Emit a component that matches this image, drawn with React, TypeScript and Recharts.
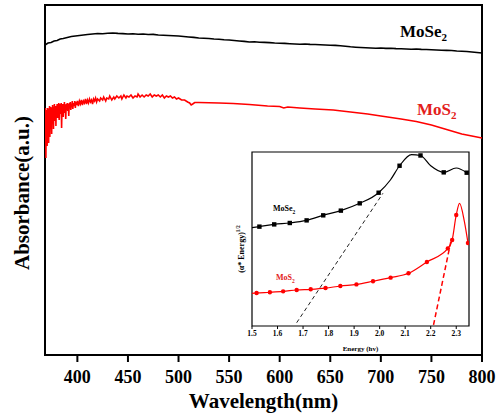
import React from 'react';
import { LineChart, Line, XAxis, YAxis, ReferenceArea } from 'recharts';

// main spectra: wavelength (nm) and absorbance (a.u.)
const mose2Wl = [368, 371, 374, 377, 380, 383, 386, 390, 394, 398, 402, 406, 410, 415, 420, 425, 430, 435, 440, 445, 450, 455, 460, 465, 470, 475, 480, 485, 490, 495, 500, 505, 510, 515, 520, 525, 530, 535, 540, 545, 550, 555, 560, 565, 570, 575, 580, 585, 590, 595, 600, 605, 610, 615, 620, 625, 630, 635, 640, 645, 650, 655, 660, 665, 670, 675, 680, 685, 690, 695, 700, 705, 710, 715, 720, 725, 730, 735, 740, 745, 750, 755, 760, 765, 770, 775, 780, 785, 790, 795, 800];
const mose2Abs = [3.10, 3.12, 3.125, 3.14, 3.145, 3.16, 3.165, 3.175, 3.185, 3.19, 3.195, 3.20, 3.205, 3.21, 3.215, 3.212, 3.218, 3.22, 3.216, 3.214, 3.21, 3.212, 3.208, 3.21, 3.205, 3.206, 3.20, 3.198, 3.195, 3.192, 3.19, 3.185, 3.18, 3.176, 3.17, 3.168, 3.165, 3.16, 3.158, 3.152, 3.15, 3.145, 3.14, 3.136, 3.13, 3.132, 3.128, 3.126, 3.124, 3.12, 3.118, 3.116, 3.113, 3.11, 3.108, 3.11, 3.106, 3.105, 3.102, 3.10, 3.098, 3.096, 3.092, 3.088, 3.082, 3.078, 3.075, 3.072, 3.07, 3.068, 3.07, 3.066, 3.068, 3.064, 3.062, 3.06, 3.058, 3.06, 3.056, 3.055, 3.052, 3.05, 3.048, 3.046, 3.045, 3.04, 3.038, 3.035, 3.03, 3.025, 3.02];

const mos2Wl = [
  368.0, 368.3, 368.6, 368.9, 369.2, 369.5, 369.8, 370.1, 370.4, 370.7,
  371.0, 371.3, 371.6, 371.9, 372.2, 372.5, 372.8, 373.1, 373.4, 373.7,
  374.0, 374.3, 374.6, 374.9, 375.2, 375.5, 375.8, 376.1, 376.4, 376.7,
  377.0, 377.3, 377.6, 377.9, 378.2, 378.5, 378.8, 379.1, 379.5, 380.0,
  380.4, 380.8, 381.2, 381.6, 382.0, 382.4, 382.8, 383.2, 383.6, 384.0,
  384.4, 384.8, 385.2, 385.6, 386.0, 386.4, 386.8, 387.2, 387.6, 388.0,
  388.5, 389.0, 389.5, 390.0, 390.5, 391.0, 391.5, 392.0, 392.5, 393.0,
  393.5, 394.0, 394.5, 395.0, 395.5, 396.0, 397.0, 397.5, 398.0, 398.5,
  399, 400, 401, 402, 403, 404, 405, 406, 407, 408,
  409, 410, 411, 412, 413, 414, 415, 416, 417, 418,
  419, 420, 422, 423, 425, 426, 428, 429, 431, 432,
  434, 436, 437, 439, 441, 443, 444, 446, 448, 449,
  451, 453, 455, 457, 459, 460, 462, 464, 466, 468,
  470, 472, 474, 476, 478, 480, 482, 484, 486, 488,
  490, 492, 494, 496, 498, 500, 503, 506, 509, 511,
  512.5, 514, 516, 520, 540, 554, 570, 588, 600, 604,
  608, 620, 635, 653, 670, 687, 700, 720, 735, 750,
  765, 780, 790, 800,
];
const mos2Abs = [
  2.43, 2.05, 2.47, 1.97, 2.37, 2.15, 2.45, 2.09, 2.30, 2.47,
  2.23, 2.41, 2.12, 2.46, 2.34, 2.49, 2.18, 2.38, 2.29, 2.48,
  2.36, 2.44, 2.21, 2.47, 2.39, 2.50, 2.31, 2.45, 2.26, 2.48,
  2.42, 2.51, 2.34, 2.46, 2.38, 2.49, 2.29, 2.47, 2.43, 2.51,
  2.37, 2.48, 2.44, 2.52, 2.35, 2.47, 2.41, 2.51, 2.46, 2.52,
  2.27, 2.48, 2.43, 2.51, 2.38, 2.49, 2.45, 2.53, 2.42, 2.50,
  2.36, 2.51, 2.46, 2.52, 2.44, 2.51, 2.39, 2.52, 2.47, 2.53,
  2.45, 2.51, 2.48, 2.54, 2.46, 2.52, 2.49, 2.54, 2.47, 2.53,
  2.50, 2.54, 2.49, 2.54, 2.51, 2.55, 2.50, 2.54, 2.52, 2.56,
  2.51, 2.55, 2.52, 2.56, 2.53, 2.55, 2.51, 2.56, 2.54, 2.57,
  2.53, 2.56, 2.54, 2.57, 2.55, 2.58, 2.54, 2.57, 2.56, 2.59,
  2.55, 2.58, 2.56, 2.59, 2.57, 2.59, 2.56, 2.60, 2.57, 2.59,
  2.58, 2.60, 2.57, 2.59, 2.58, 2.61, 2.58, 2.60, 2.58, 2.60,
  2.59, 2.61, 2.58, 2.60, 2.59, 2.60, 2.58, 2.60, 2.57, 2.59,
  2.58, 2.59, 2.57, 2.58, 2.56, 2.57, 2.55, 2.55, 2.53, 2.52,
  2.50, 2.51, 2.525, 2.525, 2.52, 2.515, 2.505, 2.49, 2.485, 2.47,
  2.48, 2.47, 2.46, 2.45, 2.43, 2.41, 2.39, 2.36, 2.335, 2.30,
  2.255, 2.21, 2.19, 2.17,
];

const wlTicks = [400, 450, 500, 550, 600, 650, 700, 750, 800];

// inset: Tauc plot, energy vs (α*E)^1/2, m = point drawn with a marker
const taucSeE = [1.50, 1.529, 1.587, 1.648, 1.714, 1.779, 1.848, 1.922, 1.996, 2.042, 2.078, 2.125, 2.160, 2.20, 2.251, 2.30, 2.341];
const taucSeV = [0.565, 0.571, 0.584, 0.592, 0.607, 0.636, 0.663, 0.705, 0.766, 0.839, 0.921, 0.985, 0.980, 0.921, 0.883, 0.908, 0.881];
const taucSeM = [0, 1, 1, 1, 1, 1, 1, 1, 1, 0, 1, 0, 1, 0, 1, 0, 1];

const taucSE = [1.50, 1.518, 1.570, 1.622, 1.675, 1.730, 1.788, 1.846, 1.909, 1.974, 2.043, 2.113, 2.185, 2.267, 2.284, 2.300, 2.313, 2.332, 2.346];
const taucSV = [0.188, 0.190, 0.194, 0.199, 0.207, 0.211, 0.218, 0.230, 0.239, 0.257, 0.278, 0.303, 0.368, 0.446, 0.494, 0.638, 0.705, 0.600, 0.477];
const taucSM = [0, 1, 1, 1, 1, 1, 1, 1, 1, 1, 1, 1, 1, 1, 1, 1, 0, 0, 1];

// tangent lines used for the band gap
const fitSeE = [1.675, 2.013];
const fitSeV = [0.019, 0.763];
const fitSE = [2.211, 2.280];
const fitSV = [0.006, 0.494];

const eTicks = [1.5, 1.6, 1.7, 1.8, 1.9, 2.0, 2.1, 2.2, 2.3];

const zip = (xs: number[], ys: number[], ms?: number[]) => xs.map((x, i) => ({ x, y: ys[i], m: ms ? ms[i] : 0 }));

const serif = '"Liberation Serif", "Times New Roman", serif';
const RED = '#ff0000';

const SquareDot = (props: any) => {
  const { cx, cy, payload, index } = props;
  if (!payload || !payload.m) return <g key={`sq-${index}`} />;
  return <rect key={`sq-${index}`} x={cx - 2.2} y={cy - 2.2} width={4.4} height={4.4} fill="#000" />;
};

const RoundDot = (props: any) => {
  const { cx, cy, payload, index } = props;
  if (!payload || !payload.m) return <g key={`rd-${index}`} />;
  return <circle key={`rd-${index}`} cx={cx} cy={cy} r={2.2} fill={RED} />;
};

const abs = (style: React.CSSProperties): React.CSSProperties => ({ position: 'absolute', whiteSpace: 'nowrap', lineHeight: 1, fontFamily: serif, fontWeight: 'bold', ...style });

export default function App() {
  const mose2 = zip(mose2Wl, mose2Abs);
  const mos2 = zip(mos2Wl, mos2Abs);
  const tSe = zip(taucSeE, taucSeV, taucSeM);
  const tS = zip(taucSE, taucSV, taucSM);
  const fSe = zip(fitSeE, fitSeV);
  const fS = zip(fitSE, fitSV);

  return (
    <div style={{ position: 'absolute', left: 0, top: 0, width: 496, height: 417, background: '#fff' }}>
      <LineChart width={496} height={417} margin={{ top: 5, right: 14, bottom: 0, left: 45 }}>
        <XAxis
          dataKey="x"
          type="number"
          domain={[368, 800]}
          ticks={wlTicks}
          allowDataOverflow
          height={62}
          axisLine={false}
          tickSize={7}
          tickMargin={8}
          tickLine={{ stroke: '#000', strokeWidth: 2 }}
          tick={{ fill: '#000', fontFamily: serif, fontWeight: 'bold', fontSize: 18 }}
          label={{ value: 'Wavelength(nm)', position: 'insideBottom', offset: 9, fill: '#000', fontFamily: serif, fontWeight: 'bold', fontSize: 21 }}
        />
        <YAxis type="number" domain={[0, 3.5]} hide allowDataOverflow />
        <ReferenceArea x1={368} x2={800} y1={0} y2={3.5} fill="none" stroke="#000" strokeWidth={2} />
        <Line data={mose2} dataKey="y" type="linear" stroke="#000" strokeWidth={1.6} dot={false} isAnimationActive={false} />
        <Line data={mos2} dataKey="y" type="linear" stroke={RED} strokeWidth={1.6} dot={false} isAnimationActive={false} />
      </LineChart>

      <div style={abs({ left: 400, top: 23, fontSize: 17, color: '#000' })}>
        MoSe<sub style={{ fontSize: 11 }}>2</sub>
      </div>
      <div style={abs({ left: 417, top: 101, fontSize: 17, color: '#e3201b' })}>
        MoS<sub style={{ fontSize: 11 }}>2</sub>
      </div>
      <div style={abs({ left: 22, top: 193, fontSize: 21, color: '#000', transform: 'translate(-50%, -50%) rotate(-90deg)' })}>
        Absorbance(a.u.)
      </div>

      <div style={{ position: 'absolute', left: 236, top: 148, width: 240, height: 210 }}>
        <LineChart width={240} height={210} margin={{ top: 4, right: 7, bottom: 0, left: 16 }}>
          <XAxis
            dataKey="x"
            type="number"
            domain={[1.5, 2.35]}
            ticks={eTicks}
            allowDataOverflow
            height={32}
            axisLine={false}
            tickSize={3}
            tickMargin={2}
            tickFormatter={(v: number) => v.toFixed(1)}
            tickLine={{ stroke: '#000', strokeWidth: 1 }}
            tick={{ fill: '#000', fontFamily: serif, fontWeight: 'bold', fontSize: 7.5 }}
            label={{ value: 'Energy (hv)', position: 'insideBottom', offset: 7.5, fill: '#000', fontFamily: serif, fontWeight: 'bold', fontSize: 7 }}
          />
          <YAxis type="number" domain={[0, 1]} hide allowDataOverflow />
          <ReferenceArea x1={1.5} x2={2.35} y1={0} y2={1} fill="#fff" stroke="#000" strokeWidth={1.2} />
          <Line data={fSe} dataKey="y" type="linear" stroke="#222" strokeWidth={1} strokeDasharray="4 3" dot={false} isAnimationActive={false} />
          <Line data={fS} dataKey="y" type="linear" stroke={RED} strokeWidth={1.5} strokeDasharray="5 3" dot={false} isAnimationActive={false} />
          <Line data={tSe} dataKey="y" type="monotone" stroke="#000" strokeWidth={1.2} dot={SquareDot} isAnimationActive={false} />
          <Line data={tS} dataKey="y" type="monotone" stroke={RED} strokeWidth={1.2} dot={RoundDot} isAnimationActive={false} />
        </LineChart>
      </div>

      <div style={abs({ left: 273, top: 205, fontSize: 8, color: '#000' })}>
        MoSe<sub style={{ fontSize: 5.5 }}>2</sub>
      </div>
      <div style={abs({ left: 276, top: 274, fontSize: 8, color: '#e3201b' })}>
        MoS<sub style={{ fontSize: 5.5 }}>2</sub>
      </div>
      <div style={abs({ left: 241, top: 249, fontSize: 8, color: '#000', transform: 'translate(-50%, -50%) rotate(-90deg)' })}>
        (α* Energy)<sup style={{ fontSize: 5.5 }}>1/2</sup>
      </div>
    </div>
  );
}
